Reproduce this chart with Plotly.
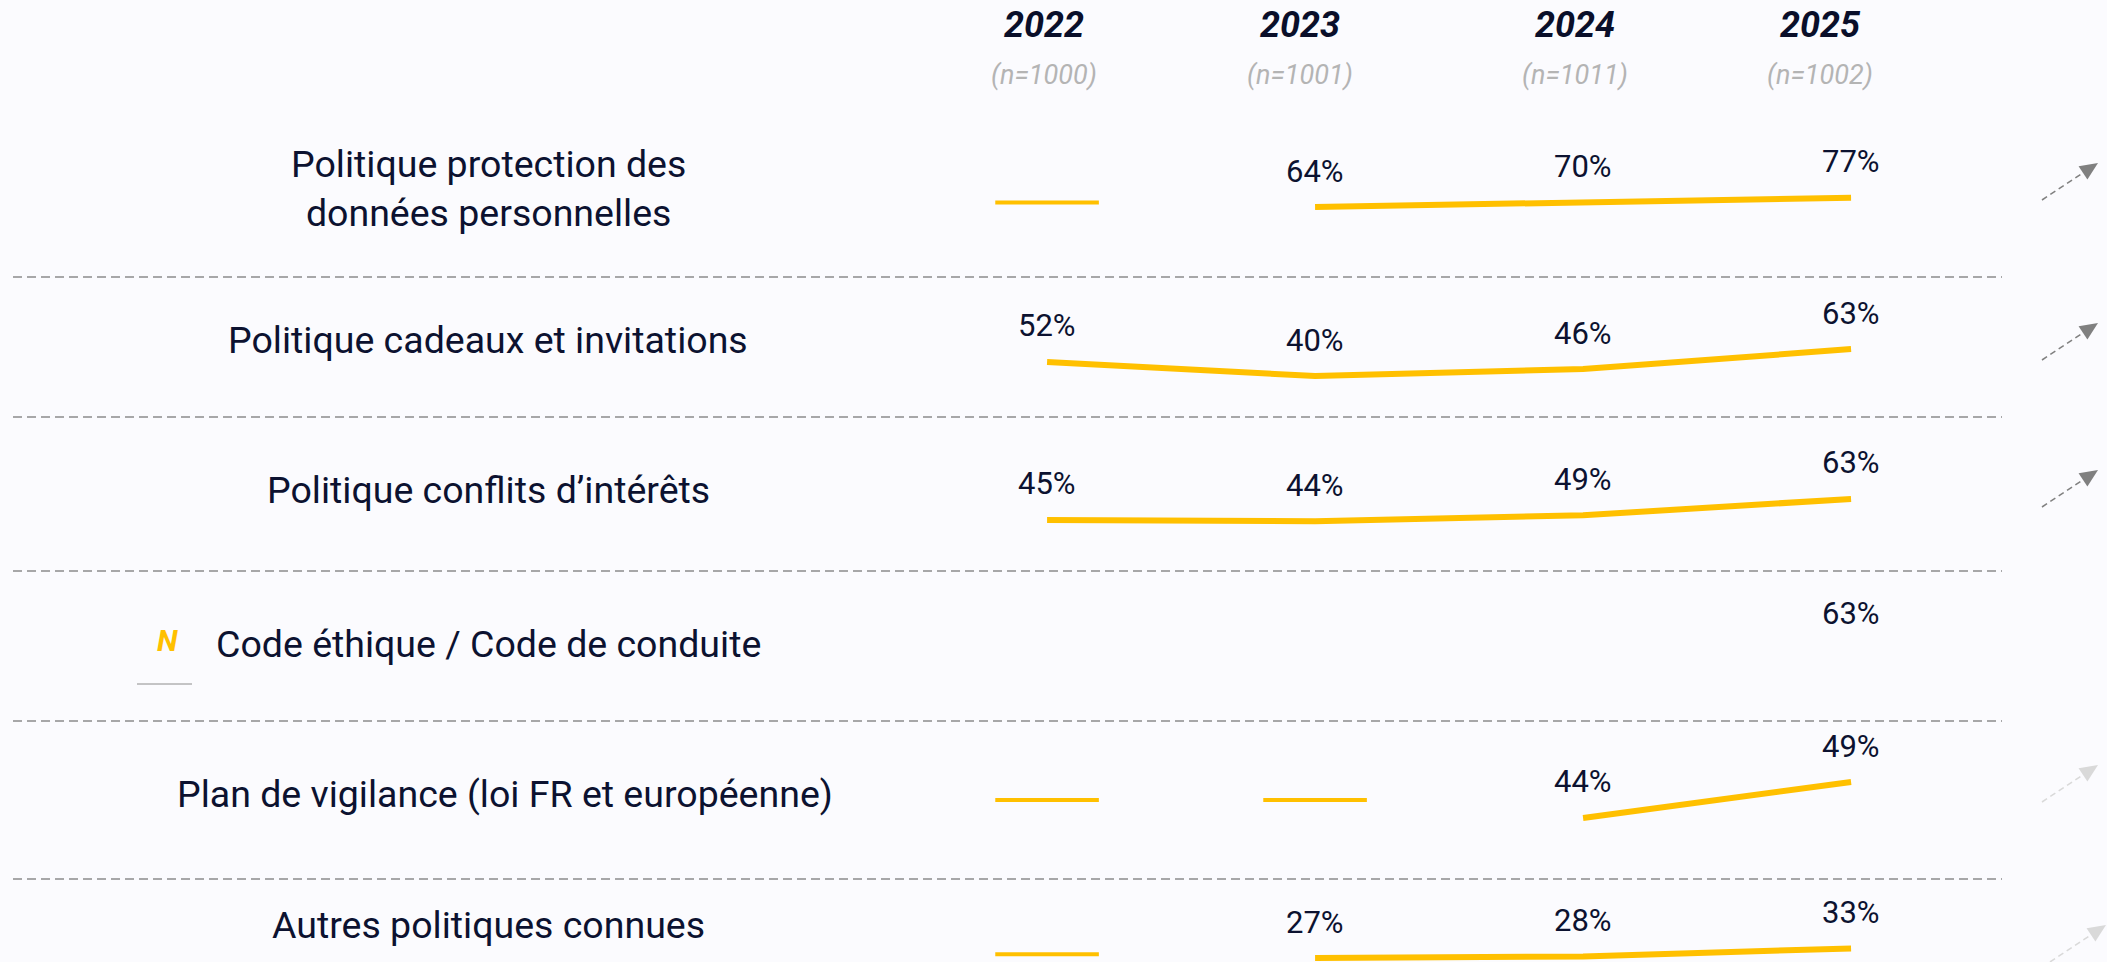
import plotly.graph_objects as go

# --- data -------------------------------------------------------------
years = [2022, 2023, 2024, 2025]
sample_sizes = ["(n=1000)", "(n=1001)", "(n=1011)", "(n=1002)"]

policies = [
    "Politique protection des<br>données personnelles",
    "Politique cadeaux et invitations",
    "Politique conflits d’intérêts",
    "Code éthique / Code de conduite",
    "Plan de vigilance (loi FR et européenne)",
    "Autres politiques connues",
]
protection = [None, 64, 70, 77]
cadeaux = [52, 40, 46, 63]
conflits = [45, 44, 49, 63]
code_ethique = [None, None, None, 63]
vigilance = [None, None, 44, 49]
autres = [None, 27, 28, 33]
series = [protection, cadeaux, conflits, code_ethique, vigilance, autres]

new_item = [False, False, False, True, False, False]
# trend arrow: "sig" = significant rise, "ns" = non significant, None = none
trend = ["sig", "sig", "sig", None, "ns", "ns"]

# --- layout constants (pixels of a 2107x962 page) ----------------------
W, H = 2107, 962
YELLOW = "#FFC000"
NAVY = "#0c1230"
BG = "#fbfbfe"
FONT = "Roboto"

row_bands = [(100, 277), (277, 417), (417, 571), (571, 721), (721, 879), (879, 962)]
row_ranges = [(-34.6, 214.7), (5.0, 124.6), (1.4, 133.0), (2.3, 130.5), (35.5, 57.5), (24.5, 76.4)]
label_x = [488, 488, 488, 488, 505, 488]
label_y = [189, 340, 490, 644, 794, 925]
separators = [277, 417, 571, 721, 879]
arrow_tail = [(2042, 200), (2042, 360), (2042, 507), None, (2042, 802), (2050, 962)]
header_xshift = [-3, -15, -8, -31]


def px(x):
    return x / W


def py(y):
    return 1 - y / H


def text_ann(**kw):
    kw.setdefault("showarrow", False)
    kw.setdefault("xanchor", "center")
    kw.setdefault("yanchor", "middle")
    return kw


fig = go.Figure()
annotations = []
shapes = []

for i, vals in enumerate(series):
    yname = "y" if i == 0 else f"y{i + 1}"
    fig.add_trace(go.Scatter(
        x=years, y=vals, mode="lines", yaxis=yname,
        line=dict(color=YELLOW, width=6), connectgaps=False,
        cliponaxis=False, hoverinfo="skip", showlegend=False,
    ))
    present = [v for v in vals if v is not None]
    if not new_item[i]:
        missing = [y for y, v in zip(years, vals) if v is None]
        if missing:
            level = sum(present) / len(present)
            fig.add_trace(go.Scatter(
                x=missing, y=[level] * len(missing), mode="markers", yaxis=yname,
                marker=dict(symbol="line-ew", size=74,
                            line=dict(color=YELLOW, width=4)),
                cliponaxis=False, hoverinfo="skip", showlegend=False,
            ))
    for yr, v in zip(years, vals):
        if v is None:
            continue
        annotations.append(text_ann(
            x=yr, y=v, xref="x", yref=yname, text=f"{v}%",
            yshift=36, font=dict(family=FONT, size=31, color=NAVY),
        ))

    # row label
    annotations.append(text_ann(
        x=px(label_x[i]), y=py(label_y[i]), xref="paper", yref="paper",
        text=policies[i], align="center",
        font=dict(family=FONT, size=37.5, color=NAVY),
    ))

    if new_item[i]:
        annotations.append(text_ann(
            x=px(167), y=py(640), xref="paper", yref="paper", text="N",
            font=dict(family=FONT, size=30, color=YELLOW, weight=700, style="italic"),
        ))
        shapes.append(dict(type="line", xref="paper", yref="paper",
                           x0=px(137), x1=px(192), y0=py(684), y1=py(684),
                           line=dict(color="#8c8c8c", width=1)))

    # trend arrow
    if trend[i] is not None:
        col = "#808080" if trend[i] == "sig" else "#d9d9d9"
        tx, ty = arrow_tail[i]
        hx, hy = tx + 56, ty - 37
        ln = (56 ** 2 + 37 ** 2) ** 0.5
        ux, uy = 56 / ln, -37 / ln
        bx, by = hx - 18 * ux, hy - 18 * uy
        nx, ny = -uy, ux
        shapes.append(dict(type="line", xref="paper", yref="paper",
                           x0=px(tx), y0=py(ty), x1=px(bx), y1=py(by),
                           line=dict(color=col, width=1.5, dash="6px,4px")))
        p1 = (bx + 8 * nx, by + 8 * ny)
        p2 = (bx - 8 * nx, by - 8 * ny)
        path = (f"M{px(hx)},{py(hy)} L{px(p1[0])},{py(p1[1])} "
                f"L{px(p2[0])},{py(p2[1])} Z")
        shapes.append(dict(type="path", xref="paper", yref="paper", path=path,
                           fillcolor=col, line=dict(color=col, width=0)))

# header
for yr, n, dx in zip(years, sample_sizes, header_xshift):
    annotations.append(text_ann(
        x=yr, y=py(25), xref="x", yref="paper", text=str(yr),
        xshift=dx, font=dict(family=FONT, size=36, color="#0a0f2a",
                             weight=700, style="italic"),
    ))
    annotations.append(text_ann(
        x=yr, y=py(75), xref="x", yref="paper", text=n,
        xshift=dx, font=dict(family=FONT, size=27, color="#b4b4b4", style="italic"),
    ))

for y in separators:
    shapes.append(dict(type="line", xref="paper", yref="paper",
                       x0=px(13), x1=px(2002), y0=py(y), y1=py(y),
                       line=dict(color="#8c8c8c", width=1.5, dash="9px,5px")))

layout = dict(
    width=W, height=H, margin=dict(l=0, r=0, t=0, b=0),
    paper_bgcolor=BG, plot_bgcolor=BG,
    xaxis=dict(range=[2018.093, 2025.955], visible=False, fixedrange=True),
    annotations=annotations, shapes=shapes, showlegend=False,
)
for i, ((top, bot), rng) in enumerate(zip(row_bands, row_ranges)):
    key = "yaxis" if i == 0 else f"yaxis{i + 1}"
    layout[key] = dict(domain=[py(bot), py(top)], range=list(rng),
                       visible=False, anchor="x", fixedrange=True)
fig.update_layout(**layout)

fig.write_html(
    "out.html", config=dict(displayModeBar=False),
    post_script="document.body.style.margin='0';document.body.style.overflow='hidden';",
)
